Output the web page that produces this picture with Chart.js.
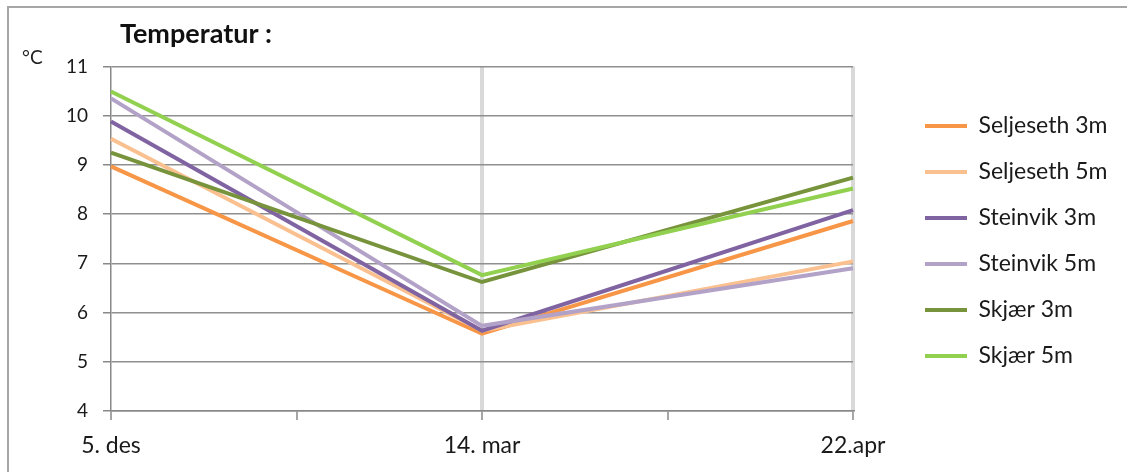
<!DOCTYPE html>
<html>
<head>
<meta charset="utf-8">
<script src="https://cdn.jsdelivr.net/npm/chart.js@4.4.1/dist/chart.umd.min.js"></script>
<style>
  html, body { margin: 0; padding: 0; background: #fff; overflow: hidden; }
  #wrap { position: relative; width: 1127px; height: 472px; }
  #frame { position: absolute; left: 7px; top: 6px; width: 1300px; height: 600px;
           border-top: 2px solid #a6a6a6; border-left: 2px solid #a6a6a6; pointer-events: none; }
  canvas { position: absolute; left: 0; top: 0; }
</style>
</head>
<body>
<div id="wrap">
  <canvas id="c" width="1127" height="472"></canvas>
  <div id="frame"></div>
</div>
<script>
// Sampling dates (blank slots give the minor tick marks between them)
const dates = ['5. des', '', '14. mar', '', '22.apr'];

// Water temperature (°C) per station and depth
const seljeseth3m = [8.97, null, 5.57, null, 7.86];
const seljeseth5m = [9.53, null, 5.63, null, 7.04];
const steinvik3m  = [9.88, null, 5.63, null, 8.08];
const steinvik5m  = [10.35, null, 5.73, null, 6.90];
const skjaer3m    = [9.25, null, 6.62, null, 8.74];
const skjaer5m    = [10.49, null, 6.76, null, 8.52];

const seriesNames = ['Seljeseth 3m', 'Seljeseth 5m', 'Steinvik 3m', 'Steinvik 5m', 'Skjær 3m', 'Skjær 5m'];
const seriesData = [seljeseth3m, seljeseth5m, steinvik3m, steinvik5m, skjaer3m, skjaer5m];
const seriesColors = ['#F79646', '#FAC08F', '#8064A2', '#B3A2C7', '#77933C', '#92D050'];

const FONT = 'Lato, "Open Sans", sans-serif';
const LEGEND_SIZE = 23;
const LEGEND_PAD = 23;
const LEGEND_BOX = 42;

// Legend width is measured up front so its swatches start at a fixed x
const measure = document.createElement('canvas').getContext('2d');
measure.font = LEGEND_SIZE + 'px ' + FONT;
const longest = Math.max(...seriesNames.map(n => measure.measureText(n).width));
const legendWidth = LEGEND_PAD + LEGEND_BOX + LEGEND_SIZE / 2 + longest + 10;
const legendLeft = 925 - LEGEND_PAD;
const padRight = Math.max(0, 1127 - legendLeft - legendWidth);

const datasets = seriesNames.map((name, i) => ({
  label: name,
  data: seriesData[i],
  borderColor: seriesColors[i],
  backgroundColor: seriesColors[i],
  borderWidth: 4,
  pointRadius: 0,
  tension: 0,
  spanGaps: true,
  order: seriesNames.length - i
}));

// Unit label above the value axis, and a small shift of the title
const extras = {
  id: 'extras',
  afterLayout(chart) {
    if (chart.titleBlock) {
      chart.titleBlock.left += 9;
      chart.titleBlock.right += 9;
    }
  },
  afterDraw(chart) {
    const ctx = chart.ctx;
    ctx.save();
    ctx.fillStyle = '#222';
    ctx.font = '19px ' + FONT;
    ctx.textBaseline = 'alphabetic';
    ctx.fillText('°C', 22, 64);
    ctx.restore();
  }
};

new Chart(document.getElementById('c'), {
  type: 'line',
  data: { labels: dates, datasets },
  plugins: [extras],
  options: {
    responsive: false,
    animation: false,
    devicePixelRatio: 1,
    layout: { padding: { top: 10, left: 0, right: padRight, bottom: 0 } },
    plugins: {
      tooltip: { enabled: false },
      title: {
        display: true,
        text: 'Temperatur :',
        align: 'start',
        fullSize: false,
        color: '#111',
        font: { family: FONT, size: 27, weight: 'bold' },
        padding: { top: 8, bottom: 16 }
      },
      legend: {
        position: 'right',
        align: 'center',
        labels: {
          color: '#1a1a1a',
          font: { family: FONT, size: LEGEND_SIZE },
          boxWidth: LEGEND_BOX,
          boxHeight: 4,
          padding: LEGEND_PAD,
          sort: (a, b) => a.datasetIndex - b.datasetIndex,
          generateLabels(chart) {
            return Chart.defaults.plugins.legend.labels.generateLabels(chart)
              .map(item => Object.assign(item, { lineWidth: 0 }));
          }
        }
      }
    },
    scales: {
      x: {
        offset: false,
        afterFit(s) { s.height = 61; },
        grid: {
          color: c => (c.index === 2 || c.index === 4) ? '#d9d9d9' : 'rgba(0,0,0,0)',
          lineWidth: 4,
          tickColor: '#888',
          tickWidth: 1.5,
          tickLength: 9
        },
        border: { display: true, color: '#888', width: 1.5 },
        ticks: {
          autoSkip: false,
          maxRotation: 0,
          color: '#1a1a1a',
          padding: 12,
          font: { family: FONT, size: 23 }
        }
      },
      y: {
        min: 4,
        max: 11,
        afterFit(s) { s.width = 111; },
        ticks: {
          stepSize: 1,
          color: '#1a1a1a',
          padding: 15,
          font: { family: FONT, size: 19 }
        },
        grid: {
          color: '#8f8f8f',
          lineWidth: 1.5,
          tickColor: '#888',
          tickLength: 8
        },
        border: { display: true, color: '#888', width: 1.5 }
      },
      // Blank spacer between the plot and the legend
      gap: {
        type: 'linear',
        position: 'right',
        display: false,
        afterFit(s) { s.width = legendLeft - 853; }
      }
    }
  }
});
</script>
</body>
</html>
